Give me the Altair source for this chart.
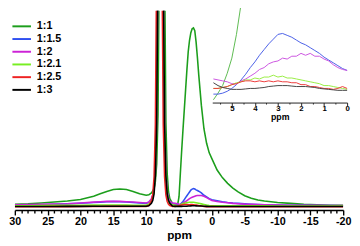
import altair as alt
import pandas as pd

series = ["1:1", "1:1.5", "1:2", "1:2.1", "1:2.5", "1:3"]
main_colors = ["#1c9e1c", "#2f4ff0", "#cc22d6", "#77ee22", "#ee2222", "#000000"]
inset_colors = ["#5cba50", "#4a5fe6", "#cc55e0", "#99ee44", "#ee3a3a", "#444444"]

# main spectrum (ppm, intensity a.u.)
main_ppm = [30, 28, 26, 24, 22, 20, 18, 17, 16, 15, 14, 13, 12, 11, 10, 9.6, 9.2, 9.0, 8.8, 8.6,
            8.4, 8.2, 8.0, 7.8, 7.6, 7.4, 7.2, 7.0, 6.8, 6.6, 6.4, 6.0, 5.6, 5.2, 5.0, 4.8, 4.6, 4.4,
            4.2, 4.0, 3.8, 3.6, 3.4, 3.2, 3.0, 2.8, 2.6, 2.4, 2.2, 2.0, 1.6, 1.2, 0.8, 0.4, 0, -0.8,
            -1.6, -2.4, -3.2, -4, -5, -6, -7, -8, -10, -12, -14, -16, -18, -20]

m_1_1 = [6, 6.5, 7.5, 8.5, 9.5, 11, 14.5, 17, 19.5, 21.5, 22, 21.5, 19.5, 17, 15.5, 16, 18, 20, 23, 30,
         48, 100, 270, 900, 2000, 900, 260, 92, 38, 19, 12, 7, 5.5, 6, 14, 38, 62, 84,
         105, 126, 147, 166, 178, 186, 190, 191, 188, 176, 160, 142, 110, 85, 70, 60, 54, 42,
         34, 28, 23, 19, 15, 12.5, 10.5, 9.5, 8, 7, 6, 5.5, 5, 5]
m_1_15 = [5, 5.3, 5.6, 6, 6.5, 7.2, 8, 8.3, 8.7, 9, 8.8, 8.5, 8, 7.5, 7, 8, 11, 15, 22, 40,
          95, 265, 900, 2000, 900, 262, 92, 37, 18, 11, 8.5, 7, 6.5, 6, 5.5, 6, 7.5, 9,
          11, 13, 15, 17, 19, 21, 22, 22.5, 22, 21.2, 20.5, 19.8, 18, 15.5, 13.8, 12, 10.8, 9.8,
          8.8, 8, 7.4, 7, 6.5, 6.1, 5.8, 5.5, 5.2, 5, 4.9, 4.8, 4.7, 4.6]
m_1_2 = [5.5, 5.7, 6, 6.3, 6.7, 7.5, 8.3, 8.8, 9.1, 9.3, 9.1, 8.8, 8.4, 8, 7.5, 8.5, 12, 16, 23, 41,
         96, 266, 900, 2000, 900, 263, 93, 38, 19, 12, 9, 7.5, 7, 6.5, 6, 5.8, 6.5, 7.2,
         8.2, 9, 10, 11, 12, 12.8, 13.5, 14, 14.5, 15, 15.2, 15.3, 15.3, 14.5, 13, 11.5, 10, 9,
         8.2, 7.6, 7, 6.6, 6.2, 6, 5.7, 5.5, 5.2, 5, 5, 4.9, 4.8, 4.8]
m_1_21 = [4.5, 4.6, 4.8, 4.9, 5, 5, 5.2, 5.3, 5.4, 5.4, 5.3, 5.2, 5.1, 5, 5, 6, 9.5, 13.5, 20, 38,
          93, 263, 900, 2000, 900, 261, 90, 35, 16, 9, 6.5, 5.5, 5, 4.5, 4.5, 5.5, 6.2, 6.8,
          7.2, 7.5, 7.8, 8, 8.1, 8.2, 8.2, 8.1, 7.9, 7.7, 7.4, 7.1, 6.5, 5.9, 5.3, 4.8, 4.5, 4.5,
          4.5, 4.4, 4.4, 4.4, 4.4, 4.4, 4.4, 4.4, 4.3, 4.3, 4.3, 4.3, 4.3, 4.3]
m_1_25 = [3.5, 3.5, 3.5, 3.6, 3.6, 3.7, 3.8, 3.8, 3.9, 3.9, 3.9, 3.8, 3.8, 3.7, 3.8, 5, 9.5, 16, 35, 90,
          260, 900, 2000, 900, 260, 90, 35, 16, 9, 6, 4.8, 3.8, 3.9, 4.2, 4.5, 5, 5.3, 5.6,
          5.8, 5.8, 5.7, 5.6, 5.6, 5.7, 5.7, 5.6, 5.4, 5.2, 5, 4.7, 4.2, 3.8, 3.6, 3.5, 3.6, 3.5,
          3.5, 3.5, 3.5, 3.5, 3.5, 3.5, 3.5, 3.5, 3.5, 3.5, 3.5, 3.5, 3.5, 3.5]
m_1_3 = [3.8, 3.8, 3.8, 3.8, 3.9, 3.9, 4, 4, 4, 4, 4, 4, 4, 4, 4, 4.5, 7, 10, 17, 36,
         91, 262, 900, 2000, 900, 262, 91, 36, 17, 10, 7, 4.2, 3.9, 3.9, 3.9, 3.9, 3.9, 4,
         4, 4, 4.1, 4.2, 4.3, 4.4, 4.5, 4.5, 4.5, 4.4, 4.3, 4.3, 4.2, 4, 3.9, 3.8, 3.8, 3.8,
         3.8, 3.8, 3.8, 3.8, 3.8, 3.8, 3.8, 3.8, 3.8, 3.8, 3.8, 3.8, 3.8, 3.8]

# inset (5.8 - 0 ppm, magnified)
inset_ppm = [5.8, 5.6, 5.4, 5.2, 5.0, 4.8, 4.6, 4.4, 4.2, 4.0, 3.8, 3.6, 3.4, 3.2, 3.0, 2.8, 2.6, 2.4,
             2.2, 2.0, 1.8, 1.6, 1.4, 1.2, 1.0, 0.8, 0.6, 0.4, 0.2, 0.0]
i_1_1 = [6, 13, 21, 34, 50, 75, 107, 150]
i_1_15 = [12, 12, 13, 15, 18, 22, 27, 33, 40, 46, 53, 59, 65, 70, 75, 76, 74, 72,
          69, 66, 64, 61, 58, 55, 51, 48, 45, 42, 39, 37]
i_1_2 = [28, 27, 26, 25, 23, 23, 26, 28, 31, 34, 38, 40, 44, 46, 47, 50, 49, 52,
         52, 55, 53, 55, 52, 52, 49, 47, 43, 40, 38, 37]
i_1_21 = [18, 18, 19, 20, 22, 24, 25, 27, 27, 29, 28, 30, 30, 32, 30, 31, 29, 29,
          28, 27, 26, 25, 24, 23, 21, 21, 20, 19, 18, 17]
i_1_25 = [18, 18, 19, 20, 22, 23, 25, 26, 26, 25, 26, 25, 26, 25, 26, 25, 25, 24,
          24, 22, 22, 20, 20, 19, 18, 18, 17, 18, 20, 18]
i_1_3 = [24, 21, 19, 18, 17, 17, 17, 17.5, 18, 18, 18.5, 19, 20, 20.5, 21, 21, 21, 20.5,
         20, 20, 20, 19.5, 19, 18, 17.5, 17, 16.5, 16, 16, 16]

main_rows = []
for name, vals in zip(series, [m_1_1, m_1_15, m_1_2, m_1_21, m_1_25, m_1_3]):
    for p, v in zip(main_ppm, vals):
        main_rows.append({"series": name, "ppm": p, "intensity": v})
main_df = pd.DataFrame(main_rows)

inset_rows = []
for name, vals in zip(series, [i_1_1, i_1_15, i_1_2, i_1_21, i_1_25, i_1_3]):
    for p, v in zip(inset_ppm, vals):
        inset_rows.append({"iseries": name, "ippm": p, "ival": v})
inset_df = pd.DataFrame(inset_rows)

FONT = "Liberation Sans"
W, H = 336, 204

main = alt.Chart(main_df).mark_line(clip=True, strokeWidth=1.6).encode(
    x=alt.X("ppm:Q",
            scale=alt.Scale(domain=[-20, 30], reverse=True, nice=False, zero=False),
            axis=alt.Axis(
                title="ppm",
                values=list(range(30, -21, -1)),
                labelExpr="datum.value % 5 === 0 ? toString(datum.value) : ''",
                tickSize={"condition": {"test": "datum.value % 5 === 0", "value": 5}, "value": 3},
                labelOverlap=False, labelFlush=False, grid=False,
                domainColor="black", domainWidth=1.6, tickColor="black", tickWidth=1.4,
                labelFont=FONT, labelFontSize=11, labelFontWeight="bold", labelColor="black",
                labelPadding=1, titleFont=FONT, titleFontSize=12, titleFontWeight="bold",
                titleColor="black", titlePadding=3)),
    y=alt.Y("intensity:Q", scale=alt.Scale(domain=[0, 209], nice=False, zero=False), axis=None),
    color=alt.Color("series:N",
                    scale=alt.Scale(domain=series, range=main_colors),
                    legend=alt.Legend(title=None, orient="none", legendX=1, legendY=10,
                                      symbolType="M-2,0H2", symbolSize=90, symbolStrokeWidth=2,
                                      symbolFillColor="transparent",
                                      labelFont=FONT, labelFontSize=11, labelFontWeight="bold",
                                      labelColor="black", rowPadding=2, labelOffset=9.5,
                                      padding=0)),
)

inset = alt.Chart(inset_df).mark_line(strokeWidth=1).encode(
    x=alt.X("ippm:Q",
            scale=alt.Scale(domain=[5.85, 0], range=[202, 340], nice=False, zero=False),
            axis=alt.Axis(
                title="ppm", orient="bottom", offset=-110,
                values=[i * 0.5 for i in range(0, 12)],
                labelExpr="datum.value % 1 === 0 ? toString(datum.value) : ''",
                tickSize={"condition": {"test": "datum.value % 1 === 0", "value": 3}, "value": 1.5},
                labelOverlap=False, labelFlush=False, grid=False,
                domainColor="#222222", domainWidth=1, tickColor="#222222", tickWidth=1,
                labelFont=FONT, labelFontSize=8, labelFontWeight="bold", labelColor="black",
                labelPadding=-1, titleFont=FONT, titleFontSize=9, titleFontWeight="bold",
                titleColor="black", titlePadding=0)),
    y=alt.Y("ival:Q", scale=alt.Scale(domain=[0, 100], range=[97, 0], nice=False, zero=False),
            axis=None),
    color=alt.Color("iseries:N", scale=alt.Scale(domain=series, range=inset_colors), legend=None),
)

chart = alt.layer(main, inset).resolve_scale(
    x="independent", y="independent", color="independent"
).properties(
    width=W, height=H,
    autosize=alt.AutoSizeParams(type="none"),
    padding={"left": 7, "right": 9, "top": 0, "bottom": 34},
).configure_view(stroke=None)

chart.save("out.html", embed_options={"renderer": "svg", "actions": False})
